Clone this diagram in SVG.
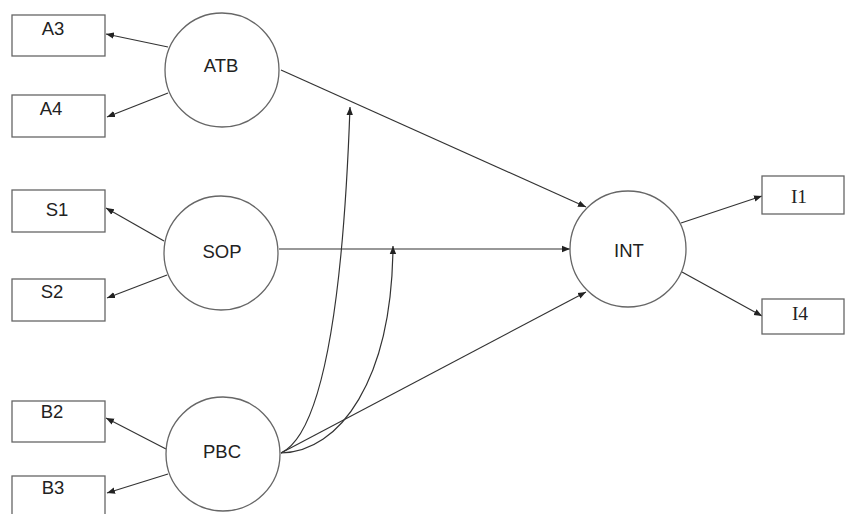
<svg xmlns="http://www.w3.org/2000/svg" width="846" height="514" viewBox="0 0 846 514">
<style>
.box{fill:#fff;stroke:#666;stroke-width:1.3}
.lat{fill:#fff;stroke:#666;stroke-width:1.3}
.t{font-family:"Liberation Sans","Open Sans",sans-serif;font-size:18.5px;fill:#222;text-anchor:middle}
.s{font-family:"Liberation Serif",serif;font-size:19.5px;fill:#222;text-anchor:middle}
.c{fill:none;stroke:#333;stroke-width:1.2}
</style>
<defs>
<marker id="ah" viewBox="0 0 10 10" refX="10" refY="5" markerWidth="8" markerHeight="8" markerUnits="userSpaceOnUse" orient="auto">
<path d="M0,1 L10,5 L0,9 z" fill="#222"/>
</marker>
</defs>
<rect width="846" height="514" fill="#fff"/>
<g id="connectors">
<line class="c" x1="168" y1="47" x2="106" y2="34" marker-end="url(#ah)"/>
<line class="c" x1="168" y1="93" x2="107" y2="117" marker-end="url(#ah)"/>
<line class="c" x1="164" y1="241" x2="106" y2="208" marker-end="url(#ah)"/>
<line class="c" x1="167" y1="275" x2="107" y2="298" marker-end="url(#ah)"/>
<line class="c" x1="166" y1="449" x2="106" y2="418" marker-end="url(#ah)"/>
<line class="c" x1="168" y1="474" x2="107" y2="493" marker-end="url(#ah)"/>
<line class="c" x1="281" y1="70" x2="586" y2="207" marker-end="url(#ah)"/>
<line class="c" x1="279" y1="249" x2="570" y2="249" marker-end="url(#ah)"/>
<line class="c" x1="281" y1="453" x2="586" y2="292" marker-end="url(#ah)"/>
<path class="c" d="M281,453 C330,430 345,250 350,107" marker-end="url(#ah)"/>
<path class="c" d="M281,453 C340,452 392,380 393,246" marker-end="url(#ah)"/>
<line class="c" x1="681" y1="223" x2="762" y2="196" marker-end="url(#ah)"/>
<line class="c" x1="682" y1="272" x2="762" y2="316" marker-end="url(#ah)"/>
</g>
<g id="A3"><rect class="box" x="12" y="15" width="93" height="41"/><text class="t" x="53" y="35">A3</text></g>
<g id="A4"><rect class="box" x="12" y="95" width="93" height="42"/><text class="t" x="51" y="115">A4</text></g>
<g id="S1"><rect class="box" x="12" y="190" width="93" height="42"/><text class="t" x="57" y="216">S1</text></g>
<g id="S2"><rect class="box" x="12" y="279" width="93" height="42"/><text class="t" x="52" y="298">S2</text></g>
<g id="B2"><rect class="box" x="12" y="401" width="93" height="41"/><text class="t" x="52" y="418">B2</text></g>
<g id="B3"><rect class="box" x="12" y="476" width="93" height="44"/><text class="t" x="53" y="494">B3</text></g>
<g id="ATB"><circle class="lat" cx="222" cy="70" r="57"/><text class="t" x="221" y="72">ATB</text></g>
<g id="SOP"><circle class="lat" cx="221" cy="253" r="57"/><text class="t" x="222" y="258">SOP</text></g>
<g id="PBC"><circle class="lat" cx="223" cy="454" r="57"/><text class="t" x="222" y="458">PBC</text></g>
<g id="INT"><circle class="lat" cx="628" cy="249" r="58"/><text class="t" x="629" y="257">INT</text></g>
<g id="I1"><rect class="box" x="762" y="176" width="82" height="38"/><text class="s" x="799" y="203">I1</text></g>
<g id="I4"><rect class="box" x="762" y="299" width="82" height="35"/><text class="s" x="800" y="320">I4</text></g>
</svg>
